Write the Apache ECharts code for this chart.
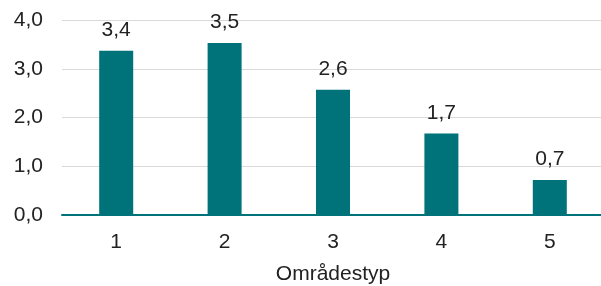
<!DOCTYPE html>
<html><head><meta charset="utf-8">
<script src="https://cdn.jsdelivr.net/npm/echarts@6/dist/echarts.min.js"></script>
<style>html,body{margin:0;padding:0;background:#fff}#c{width:601px;height:286px}</style>
</head><body><div id="c"></div>
<script>
const categories = ['1','2','3','4','5'];
const values = [3.37, 3.53, 2.57, 1.67, 0.72];
const yTicks = [0, 1, 2, 3, 4];
const xTitle = 'Områdestyp';
const fmt = v => v.toFixed(1).replace('.', ',');
const chart = echarts.init(document.getElementById('c'));
chart.setOption({
  animation: false,
  textStyle: {fontFamily: 'Liberation Sans'},
  grid: {left: 62, top: 20, width: 542, height: 195, containLabel: false, outerBoundsMode: 'none'},
  xAxis: {
    type: 'category', data: categories,
    name: xTitle, nameLocation: 'middle', nameGap: 49,
    nameTextStyle: {fontSize: 21, color: '#222', fontFamily: 'Liberation Sans'},
    axisLine: {lineStyle: {color: '#00727A', width: 2}},
    axisTick: {show: false},
    axisLabel: {fontSize: 21, color: '#222', margin: 17}
  },
  yAxis: {
    type: 'value', min: yTicks[0], max: yTicks[yTicks.length-1], interval: 1,
    axisLine: {show: false}, axisTick: {show: false},
    splitLine: {lineStyle: {color: '#d9d9d9', width: 1}},
    axisLabel: {fontSize: 21, color: '#222', margin: 19, formatter: v => fmt(v)}
  },
  series: [{
    type: 'bar', data: values, barWidth: 34,
    itemStyle: {color: '#00727A'},
    label: {show: true, position: 'top', distance: 10, fontSize: 21, color: '#222',
      formatter: p => fmt(p.value)}
  }]
});
</script></body></html>
